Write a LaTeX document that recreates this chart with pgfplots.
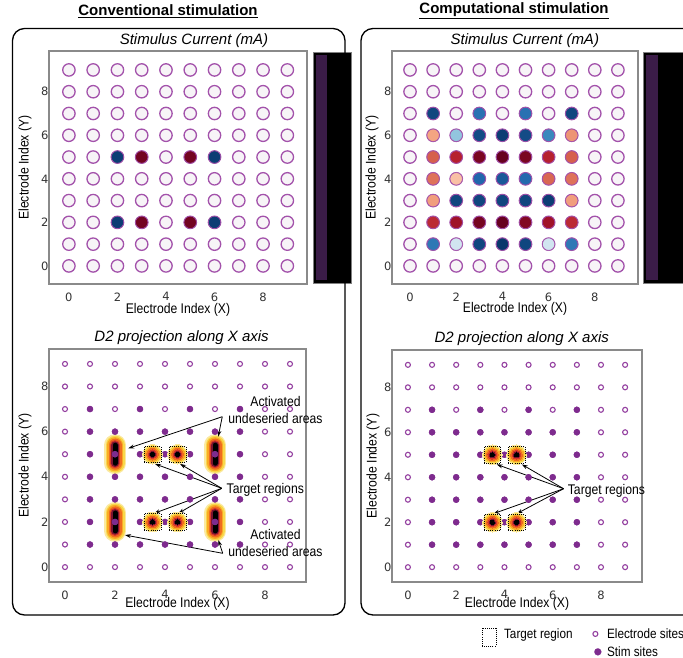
\documentclass[border=0pt]{standalone}
\usepackage{fontspec}
\setmainfont{Liberation Sans}
\newfontfamily\narrowfont{Liberation Sans}[FakeStretch=0.87]
\newfontfamily\tickfont{DejaVu Sans}
\usepackage{pgfplots}
\pgfplotsset{compat=1.18}
\usepackage{pgfplotstable}
\usetikzlibrary{arrows.meta}

\definecolor{ering}{HTML}{A352AB}
\definecolor{efill}{HTML}{F7F4F7}
\definecolor{sdot}{HTML}{7E2B8E}
\definecolor{sring}{HTML}{9440A0}
\definecolor{framegray}{HTML}{8A8A8A}
\definecolor{ticktext}{HTML}{333333}
\definecolor{cbpurple}{HTML}{3B1C48}
\definecolor{inf1}{HTML}{FBE9A0}
\definecolor{inf2}{HTML}{F8D84A}
\definecolor{inf3}{HTML}{F9A825}
\definecolor{inf4}{HTML}{EF6B1F}
\definecolor{inf5}{HTML}{D8362A}
\definecolor{inf6}{HTML}{7A1430}

\newcommand\lblfont{\narrowfont\fontsize{14}{16}\selectfont}
\newcommand\annfont{\narrowfont\fontsize{14}{17}\selectfont}
\newcommand\ttlfont{\itshape\fontsize{15}{17}\selectfont}

% electrode grid (all sites)
\pgfplotstableread[row sep=\\]{
x y\\
0 0\\1 0\\2 0\\3 0\\4 0\\5 0\\6 0\\7 0\\8 0\\9 0\\
0 1\\1 1\\2 1\\3 1\\4 1\\5 1\\6 1\\7 1\\8 1\\9 1\\
0 2\\1 2\\2 2\\3 2\\4 2\\5 2\\6 2\\7 2\\8 2\\9 2\\
0 3\\1 3\\2 3\\3 3\\4 3\\5 3\\6 3\\7 3\\8 3\\9 3\\
0 4\\1 4\\2 4\\3 4\\4 4\\5 4\\6 4\\7 4\\8 4\\9 4\\
0 5\\1 5\\2 5\\3 5\\4 5\\5 5\\6 5\\7 5\\8 5\\9 5\\
0 6\\1 6\\2 6\\3 6\\4 6\\5 6\\6 6\\7 6\\8 6\\9 6\\
0 7\\1 7\\2 7\\3 7\\4 7\\5 7\\6 7\\7 7\\8 7\\9 7\\
0 8\\1 8\\2 8\\3 8\\4 8\\5 8\\6 8\\7 8\\8 8\\9 8\\
0 9\\1 9\\2 9\\3 9\\4 9\\5 9\\6 9\\7 9\\8 9\\9 9\\
}\electrodes

% conventional stimulation currents
\pgfplotstableread[row sep=\\]{
x y v\\
2 5 -0.95\\3 5 0.97\\5 5 0.97\\6 5 -0.95\\
2 2 -0.95\\3 2 0.97\\5 2 0.97\\6 2 -0.95\\
}\convstim

% computational stimulation currents (stim sites)
\pgfplotstableread[row sep=\\]{
x y v\\
1 7 -0.92\\3 7 -0.75\\5 7 -0.75\\7 7 -0.92\\
1 6 0.40\\2 6 -0.40\\3 6 -0.90\\4 6 -0.95\\5 6 -0.90\\6 6 -0.65\\7 6 0.45\\
1 5 0.60\\2 5 0.78\\3 5 0.95\\4 5 1.00\\5 5 0.95\\6 5 0.78\\7 5 0.60\\
1 4 0.55\\2 4 0.30\\3 4 -0.80\\4 4 -0.85\\5 4 -0.78\\6 4 0.58\\7 4 0.55\\
1 3 0.42\\2 3 -0.92\\3 3 -0.92\\4 3 -0.92\\5 3 -0.92\\6 3 -0.95\\7 3 0.42\\
1 2 0.75\\2 2 0.85\\3 2 0.96\\4 2 1.00\\5 2 0.93\\6 2 0.85\\7 2 0.75\\
1 1 -0.72\\2 1 -0.20\\3 1 -0.92\\4 1 -0.97\\5 1 -0.92\\6 1 -0.20\\7 1 -0.72\\
}\stimsites

% activated undesired areas (capsules) and target regions
\pgfplotstableread[row sep=\\]{
x y\\
2 4.6\\2 5.4\\nan nan\\6 4.6\\6 5.4\\nan nan\\2 1.6\\2 2.4\\nan nan\\6 1.6\\6 2.4\\
}\capsules
\pgfplotstableread[row sep=\\]{
x y\\
2 5\\6 5\\2 2\\6 2\\
}\capcenters
\pgfplotstableread[row sep=\\]{
x y\\
3.5 5\\4.5 5\\3.5 2\\4.5 2\\
}\targets

\newcommand\caplayer[2]{\addplot[draw=#2, line width=#1, line cap=round, forget plot] table[x=x,y=y] {\capsules};}
\newcommand\tarlayer[2]{\addplot[only marks, color=#2, mark=*, mark size=#1, mark options={draw=#2, fill=#2, line width=0pt}, forget plot] table[x=x,y=y] {\targets};}

\pgfplotsset{
  every axis title shift=0pt,
  panel/.style={
    scale only axis, anchor=north west,
    xtick={0,2,4,6,8}, ytick={0,2,4,6,8},
    major tick length=0pt,
    axis line style={draw=framegray, line width=1.1pt},
    /pgf/number format/assume math mode=true,
    tick label style={font=\tickfont\fontsize{11.5}{12}\selectfont, text=ticktext},
    yticklabel style={xshift=3pt},
    xlabel={Electrode Index (X)}, ylabel={Electrode Index (Y)},
    label style={font=\lblfont},
    title style={font=\ttlfont},
    clip=false, unbounded coords=jump,
    colormap={rdbu}{rgb255=(5,48,97) rgb255=(33,102,172) rgb255=(67,147,195) rgb255=(146,197,222) rgb255=(209,229,240) rgb255=(247,247,247) rgb255=(253,219,199) rgb255=(244,165,130) rgb255=(214,96,77) rgb255=(178,24,43) rgb255=(103,0,31)},
    point meta min=-1, point meta max=1,
  },
  toppanel/.style={panel, xmin=-0.82, xmax=9.81, ymin=-0.83, ymax=9.87, height=233pt,
    title={Stimulus Current (mA)}, xticklabel style={yshift=-5pt}},
  botpanel/.style={panel, xmin=-0.64, xmax=9.64, ymin=-0.66, ymax=9.66, height=233pt,
    title={D2 projection along X axis},
    xticklabel style={yshift=-5pt},
    xlabel style={at={(axis description cs:0.5,-0.095)}, anchor=center}},
  openring/.style={only marks, mark=*, mark size=6.2pt, mark options={draw=ering, fill=efill, line width=1.3pt}},
  smallring/.style={only marks, mark=*, mark size=2.5pt, mark options={draw=sring, fill=white, line width=1.1pt}},
  stimdot/.style={only marks, mark=*, mark size=3.1pt, mark options={draw=sdot, fill=sdot, line width=0.2pt}},
  tsquare/.style={only marks, mark=square, mark size=8.3pt, mark options={draw=black, fill=none, line width=0.6pt, dash pattern=on 1pt off 1.1pt}},
}
\newcommand\arr[2]{\draw[-{Stealth[length=6pt,width=4pt]}, line width=0.8pt] (axis cs:#1) -- (axis cs:#2);}

\begin{document}
\begin{tikzpicture}[x=1pt,y=1pt]
\useasboundingbox (0,0) rectangle (683,-658);

% ---------- top-left: conventional stimulus current
\begin{axis}[toppanel, at={(49pt,-51pt)}, width=258pt,
  title style={at={(axis description cs:0.562,1.043)}, anchor=center},
  xlabel style={at={(axis description cs:0.5,-0.112)}, anchor=center},
  ylabel style={at={(axis description cs:-0.093,0.5)}, anchor=center}]
\addplot[openring] table[x=x,y=y] {\electrodes};
\addplot[scatter, only marks, mark=*, mark size=6.2pt, mark options={line width=0.6pt},
  scatter src=explicit, scatter/use mapped color={draw=ering, fill=mapped color}]
  table[x=x,y=y,meta=v] {\convstim};
\end{axis}

% ---------- top-right: computational stimulus current
\begin{axis}[toppanel, at={(392pt,-51pt)}, width=246pt,
  xmin=-0.78, xmax=9.87,
  title style={at={(axis description cs:0.54,1.043)}, anchor=center},
  xlabel style={at={(axis description cs:0.5,-0.107)}, anchor=center},
  ylabel style={at={(axis description cs:-0.081,0.5)}, anchor=center}]
\addplot[openring] table[x=x,y=y] {\electrodes};
\addplot[scatter, only marks, mark=*, mark size=6.2pt, mark options={line width=0.6pt},
  scatter src=explicit, scatter/use mapped color={draw=ering, fill=mapped color}]
  table[x=x,y=y,meta=v] {\stimsites};
\end{axis}

% ---------- bottom-left: D2 projection, conventional
\begin{axis}[botpanel, at={(49pt,-349pt)}, width=257pt,
  title style={at={(axis description cs:0.516,1.047)}, anchor=center},
  ylabel style={at={(axis description cs:-0.093,0.5)}, anchor=center}]
\addplot[smallring] table[x=x,y=y] {\electrodes};
\addplot[stimdot] table[x=x,y=y] {\stimsites};
\caplayer{22pt}{inf1}\caplayer{19pt}{inf2}\caplayer{16pt}{inf3}\caplayer{13pt}{inf4}
\caplayer{10pt}{inf5}\caplayer{7.5pt}{inf6}\caplayer{5pt}{black}
\tarlayer{9.8pt}{inf1}\tarlayer{8.6pt}{inf2}\tarlayer{7.2pt}{inf3}\tarlayer{5.8pt}{inf4}
\tarlayer{4.4pt}{inf5}\tarlayer{3.1pt}{inf6}\tarlayer{2.1pt}{black}
\addplot[only marks, mark=*, mark size=2.2pt, mark options={draw=sdot, fill=sdot, line width=0pt}] table[x=x,y=y] {\capcenters};
\addplot[tsquare] table[x=x,y=y] {\targets};
% annotations
\node[font=\annfont, align=center] at (axis cs:8.42,6.96) {Activated\\undeseried areas};
\arr{6.29,6.66}{2.53,5.26}
\arr{6.29,6.66}{6.13,5.78}
\node[font=\annfont, anchor=west, inner sep=0pt] at (axis cs:6.46,3.41) {Target regions};
\arr{6.27,3.49}{3.6,4.57}
\arr{6.27,3.49}{4.6,4.57}
\arr{6.27,3.49}{3.56,2.38}
\arr{6.27,3.49}{4.53,2.38}
\node[font=\annfont, align=center] at (axis cs:8.42,1.07) {Activated\\undeseried areas};
\arr{6.31,0.61}{2.4,1.42}
\arr{6.31,0.61}{6.13,1.2}
\end{axis}

% ---------- bottom-right: D2 projection, computational
\begin{axis}[botpanel, at={(392pt,-350pt)}, width=250pt, height=232pt,
  xmin=-0.66, xmax=9.7,
  title style={at={(axis description cs:0.519,1.047)}, anchor=center},
  ylabel style={at={(axis description cs:-0.076,0.5)}, anchor=center},
  legend columns=2,
  legend style={draw=none, fill=none, at={(rel axis cs:0.35,-0.19)}, anchor=north west,
    font=\narrowfont\fontsize{13.5}{15}\selectfont, row sep=-2pt, inner sep=0pt,
    /tikz/every odd column/.append style={column sep=3pt},
    /tikz/every even column/.append style={column sep=12pt}},
  legend cell align=left]
\addplot[smallring, forget plot] table[x=x,y=y] {\electrodes};
\addplot[stimdot, forget plot] table[x=x,y=y] {\stimsites};
\tarlayer{9.8pt}{inf1}\tarlayer{8.6pt}{inf2}\tarlayer{7.2pt}{inf3}\tarlayer{5.8pt}{inf4}
\tarlayer{4.4pt}{inf5}\tarlayer{3.1pt}{inf6}\tarlayer{2.1pt}{black}
\addplot[tsquare, forget plot] table[x=x,y=y] {\targets};
\node[font=\annfont, anchor=west, inner sep=0pt] at (axis cs:6.62,3.41) {Target regions};
\arr{6.45,3.49}{3.68,4.57}
\arr{6.45,3.49}{4.72,4.57}
\arr{6.45,3.49}{3.54,2.38}
\arr{6.45,3.49}{4.51,2.38}
\addlegendimage{legend image code/.code={
  \draw[black, line width=0.6pt, dash pattern=on 1pt off 1.1pt] (0pt,-12pt) rectangle (14pt,6pt);
  \path (-2pt,0pt) (17pt,0pt);}}
\addlegendentry{Target region}
\addlegendimage{smallring}
\addlegendentry{Electrode sites}
\addlegendimage{empty legend}
\addlegendentry{}
\addlegendimage{legend image code/.code={
  \path (0pt,0pt) (15pt,0pt);
  \path[draw=sdot, fill=sdot, line width=0.2pt] plot[mark=*, mark size=3.5pt, only marks] coordinates {(11pt,0pt)};}}
\addlegendentry{Stim sites}
\end{axis}

% ---------- colour bars
\draw[draw=gray, fill=black, line width=0.5pt] (313,-52) rectangle (351,-283);
\fill[cbpurple] (316,-55) rectangle (327,-280);
\draw[draw=gray, fill=black, line width=0.5pt] (643,-52) rectangle (700,-283);
\fill[cbpurple] (646,-55) rectangle (658,-280);

% ---------- frames
\draw[line width=1.3pt, rounded corners=12pt] (12.5,-28.5) rectangle (345,-615);
\draw[line width=1.3pt, rounded corners=12pt] (361,-28.5) rectangle (720,-615);

% ---------- headings
\node[font=\bfseries\fontsize{15}{17}\selectfont] at (168,-11) {\underline{Conventional stimulation}};
\node[font=\bfseries\fontsize{15}{17}\selectfont] at (514,-11) {\underline{Computational stimulation}};
\end{tikzpicture}
\end{document}
